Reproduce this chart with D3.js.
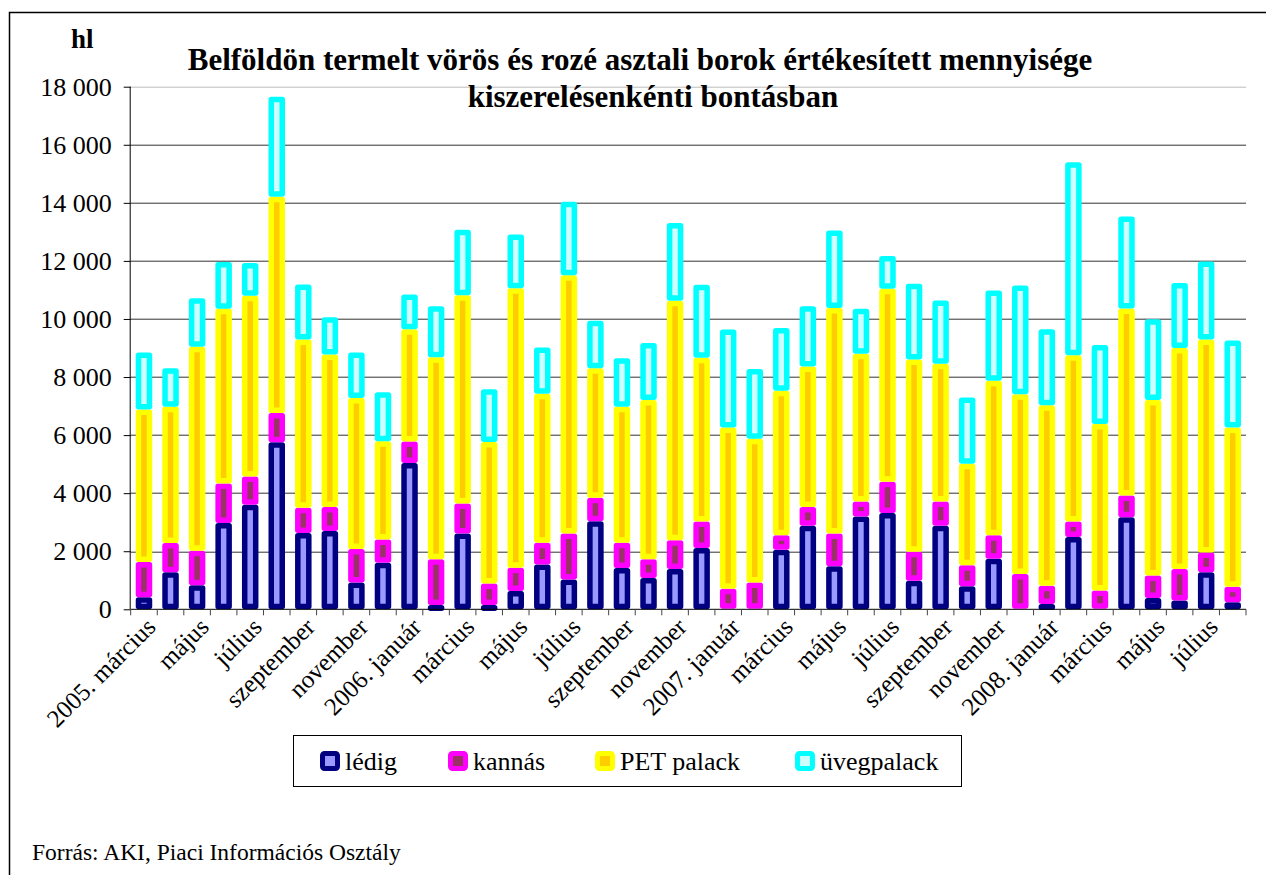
<!DOCTYPE html>
<html>
<head>
<meta charset="utf-8">
<script src="https://cdn.jsdelivr.net/npm/d3@7"></script>
<style>
    body { margin: 0; background: #fff; }
</style>
</head>
<body>
<svg id="chart"></svg>
<script>
// months, one bar each, 2005 March - 2008 August
const months = [
    '2005. március', '2005. április', 'május', '2005. június', 'július', '2005. augusztus',
    'szeptember', '2005. október', 'november', '2005. december',
    '2006. január', '2006. február', 'március', '2006. április', 'május', '2006. június',
    'július', '2006. augusztus', 'szeptember', '2006. október', 'november', '2006. december',
    '2007. január', '2007. február', 'március', '2007. április', 'május', '2007. június',
    'július', '2007. augusztus', 'szeptember', '2007. október', 'november', '2007. december',
    '2008. január', '2008. február', 'március', '2008. április', 'május', '2008. június',
    'július', '2008. augusztus'
];
// every second month gets a label
const tickLabels = ['2005. március', 'május', 'július', 'szeptember', 'november',
    '2006. január', 'március', 'május', 'július', 'szeptember', 'november',
    '2007. január', 'március', 'május', 'július', 'szeptember', 'november',
    '2008. január', 'március', 'május', 'július'];

const ledig = [415, 1280, 830, 2970, 3600, 5750, 2630, 2700, 925, 1600,
    5040, 150, 2610, 150, 630, 1540, 1030, 3030, 1420, 1080,
    1390, 2110, 20, 20, 2050, 2880, 1480, 3200, 3320, 985,
    2880, 795, 1740, 20, 180, 2490, 20, 3170, 390, 300,
    1280, 240];
const kannas = [1210, 1000, 1190, 1360, 970, 1010, 870, 820, 1150, 800,
    740, 1570, 1030, 740, 800, 750, 1580, 810, 870, 640,
    985, 910, 690, 905, 500, 640, 1130, 510, 1070, 1000,
    830, 720, 810, 1200, 630, 530, 630, 750, 770, 1090,
    680, 535];
const pet = [5260, 4700, 7020, 6020, 6230, 7450, 5790, 5260, 5200, 3390,
    3870, 6960, 7180, 4870, 9630, 5130, 8900, 4460, 4690, 5490,
    8250, 5640, 5550, 4950, 4980, 4840, 7770, 5090, 6650, 6620,
    4750, 3500, 5320, 6190, 6220, 5730, 5730, 6440, 6050, 7610,
    7330, 5490];
const uveg = [1960, 1320, 1670, 1610, 1130, 3440, 1900, 1280, 1570, 1690,
    1190, 1760, 2250, 1820, 1850, 1600, 2530, 1640, 1670, 1960,
    2680, 2520, 3380, 2400, 2160, 2080, 2670, 1550, 1130, 2610,
    2180, 2280, 3110, 3740, 2620, 6650, 2720, 3170, 2780, 2240,
    2690, 2990];

const seriesNames = ['lédig', 'kannás', 'PET palack', 'üvegpalack'];
const seriesValues = [ledig, kannas, pet, uveg];
const yTicks = [0, 2000, 4000, 6000, 8000, 10000, 12000, 14000, 16000, 18000];

// outer stroke colour + inner fill colour for each series
const strokeColors = ['#000080', '#ff00ff', '#ffff00', '#00ffff'];
const fillColors = ['#9999ff', '#993366', '#ffcc00', '#ccffff'];

const FONT = '"Liberation Serif", "Times New Roman", "DejaVu Serif", serif';

const W = 1266, H = 875;
const margin = { top: 86.7, left: 130.7 };
const width = 1246 - margin.left;
const height = 609.3 - margin.top;

const svg = d3.select('#chart').attr('width', W).attr('height', H)
    .style('font-family', FONT);

// outer frame (runs off the page at right/bottom)
svg.append('rect')
    .attr('x', 9.5).attr('y', 12.5)
    .attr('width', 1400).attr('height', 1000)
    .attr('fill', 'none').attr('stroke', '#000').attr('stroke-width', 1.5);

const g = svg.append('g')
    .attr('transform', `translate(${margin.left},${margin.top})`);

const xscale = d3.scaleBand().domain(d3.range(months.length)).range([0, width]).padding(0);
const yscale = d3.scaleLinear().domain([0, 18000]).range([height, 0]);

// gridlines
g.append('g').selectAll('line')
    .data(yTicks.filter((d) => d > 0))
    .enter().append('line')
    .attr('x1', 0).attr('x2', width)
    .attr('y1', (d) => Math.round(yscale(d)) + 0.5)
    .attr('y2', (d) => Math.round(yscale(d)) + 0.5)
    .attr('stroke', (d) => d === 18000 ? '#bbb' : '#333')
    .attr('stroke-width', 1);

// stacked data
const table = months.map((m, i) => {
    const row = { i };
    seriesNames.forEach((s, k) => { row[s] = seriesValues[k][i]; });
    return row;
});
const stacked = d3.stack().keys(seriesNames)(table);

const barW = 11;
const layers = g.selectAll('g.layer')
    .data(stacked)
    .enter().append('g')
    .attr('class', 'layer');

layers.selectAll('rect')
    .data((d, k) => d.map((p) => ({ p, k })))
    .enter().append('rect')
    .filter((d) => d.p[1] - d.p[0] > 50)
    .attr('x', (d) => xscale(d.p.data.i) + xscale.bandwidth() / 2 - barW / 2)
    .attr('width', barW)
    .attr('y', (d) => yscale(d.p[1]) + 2.75)
    .attr('height', (d) => Math.max(0.5, yscale(d.p[0]) - yscale(d.p[1]) - 5.5))
    .attr('fill', (d) => fillColors[d.k])
    .attr('stroke', (d) => strokeColors[d.k])
    .attr('stroke-width', 5.5)
    .attr('stroke-linejoin', 'round');

// y axis
const yaxis = d3.axisLeft(yscale)
    .tickValues(yTicks)
    .tickSize(7)
    .tickPadding(12)
    .tickFormat((d) => d3.format(',')(d).replace(',', ' '));
const g_yaxis = g.append('g').call(yaxis)
    .attr('font-family', null).attr('font-size', null);
g_yaxis.select('.domain').attr('stroke', '#000').attr('d', `M-0.5,0V${height}`);
g_yaxis.selectAll('.tick line').attr('stroke', '#000');
g_yaxis.selectAll('text')
    .style('font-family', FONT)
    .style('font-size', '26px');

// x axis: ticks at category boundaries
const g_xaxis = g.append('g').attr('transform', `translate(0,${height})`);
g_xaxis.append('line')
    .attr('x1', 0).attr('x2', width)
    .attr('y1', 0).attr('y2', 0)
    .attr('stroke', '#000');
g_xaxis.selectAll('line.tick')
    .data(d3.range(months.length + 1))
    .enter().append('line')
    .attr('class', 'tick')
    .attr('x1', (d) => d * xscale.step())
    .attr('x2', (d) => d * xscale.step())
    .attr('y1', 0).attr('y2', 6)
    .attr('stroke', '#444');

g_xaxis.selectAll('text')
    .data(tickLabels)
    .enter().append('text')
    .attr('transform', (d, j) => {
        const cx = xscale(j * 2) + xscale.bandwidth() / 2;
        return `translate(${cx + 7},${13}) rotate(-45)`;
    })
    .attr('text-anchor', 'end')
    .attr('dy', '0.35em')
    .style('font-size', '25px')
    .text((d) => d);

// unit + title
svg.append('text')
    .attr('x', 71).attr('y', 48)
    .style('font-size', '27px').style('font-weight', 'bold')
    .text('hl');
svg.append('text')
    .attr('x', 640).attr('y', 70)
    .attr('text-anchor', 'middle')
    .style('font-size', '31px').style('font-weight', 'bold')
    .text('Belföldön termelt vörös és rozé asztali borok értékesített mennyisége');
svg.append('text')
    .attr('x', 653).attr('y', 107)
    .attr('text-anchor', 'middle')
    .style('font-size', '31px').style('font-weight', 'bold')
    .text('kiszerelésenkénti bontásban');

// legend
const legend = svg.append('g');
legend.append('rect')
    .attr('x', 293.5).attr('y', 735.5)
    .attr('width', 668).attr('height', 51)
    .attr('fill', '#fff').attr('stroke', '#000').attr('stroke-width', 1);
const legendX = [320, 448, 595, 795];
const item = legend.selectAll('g.item')
    .data(seriesNames)
    .enter().append('g')
    .attr('class', 'item')
    .attr('transform', (d, k) => `translate(${legendX[k]},751)`);
item.append('rect')
    .attr('x', 2.5).attr('y', 2.5)
    .attr('width', 15).attr('height', 15)
    .attr('rx', 2)
    .attr('fill', (d, k) => fillColors[k])
    .attr('stroke', (d, k) => strokeColors[k])
    .attr('stroke-width', 5);
item.append('text')
    .attr('x', 25).attr('y', 19)
    .style('font-size', '26px')
    .text((d) => d);

// source
svg.append('text')
    .attr('x', 32).attr('y', 860)
    .style('font-size', '23.5px')
    .text('Forrás: AKI, Piaci Információs Osztály');
</script>
</body>
</html>
